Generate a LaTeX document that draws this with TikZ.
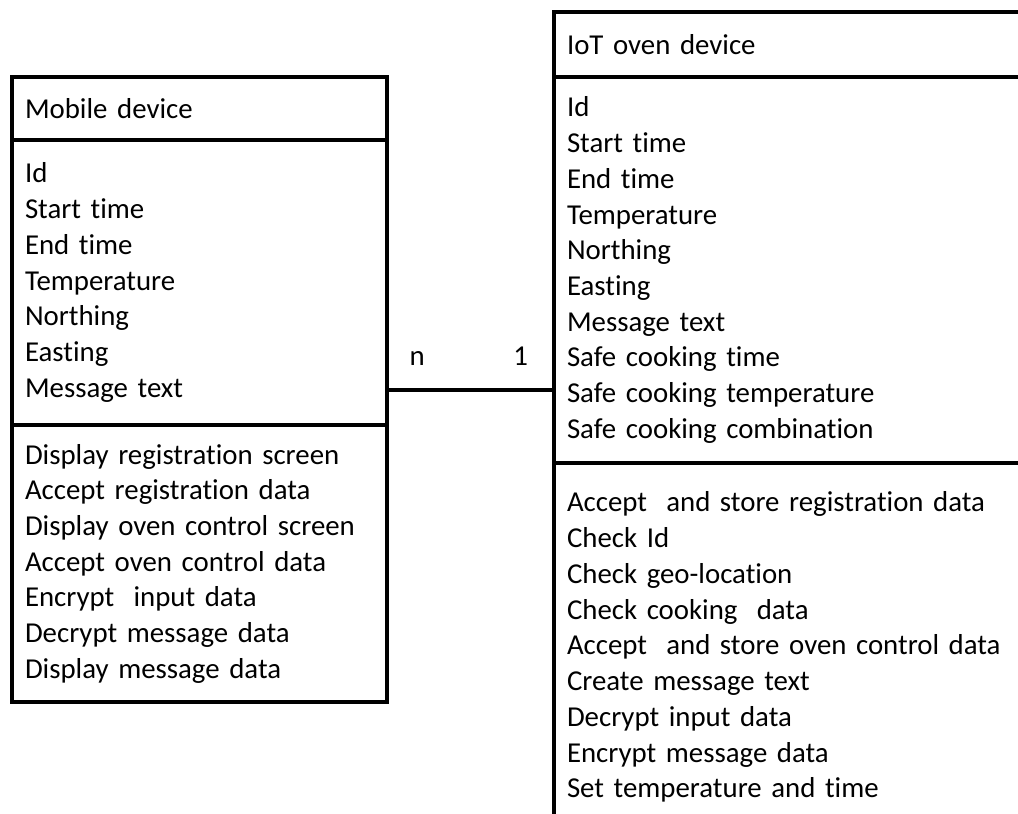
\documentclass[tikz,border=0pt]{standalone}
\usepackage{fontspec}
\setmainfont{Carlito}[Ligatures={NoCommon}]
\usetikzlibrary{positioning}

\begin{document}
\begin{tikzpicture}[
    x=0.025cm, y=-0.025cm,
    box/.style={draw, line width=2.4pt, outer sep=0pt, inner xsep=0.325cm, inner ysep=0pt,
      align=left, font={\fontsize{20.5pt}{25.4pt}\selectfont}},
    mobbox/.style={box, text width=8.725cm},
    ovenbox/.style={box, text width=11.85cm},
    mult/.style={anchor=base, yshift=0.625cm, font={\fontsize{20.5pt}{25.4pt}\selectfont}}
  ]
    \useasboundingbox (0,0) rectangle (1018,814);
    \clip (0,0) rectangle (1018,814);

    % mobile device class
    \node[mobbox, anchor=north west, minimum height=1.575cm] (mobtitle) at (12,77) {Mobile device};
    \node[mobbox, below=0pt of mobtitle, minimum height=7.125cm] (mobattr) {Id\\Start time\\End time\\Temperature\\Northing\\Easting\\Message text};
    \node[mobbox, below=0pt of mobattr, minimum height=6.925cm] (mobops) {Display registration screen\\Accept registration data\\Display oven control screen\\Accept oven control data\\Encrypt\ \ input data\\Decrypt message data\\Display message data};

    % IoT oven device class
    \node[ovenbox, anchor=north west, minimum height=1.625cm] (oventitle) at (554,12) {IoT oven device};
    \node[ovenbox, below=0pt of oventitle, minimum height=9.65cm] (ovenattr) {Id\\Start time\\End time\\Temperature\\Northing\\Easting\\Message text\\Safe cooking time\\Safe cooking temperature\\Safe cooking combination};
    \node[ovenbox, below=0pt of ovenattr, minimum height=9.2cm] (ovenops) {Accept\ \ and store registration data\\Check Id\\Check geo-location\\Check cooking\ \ data\\Accept\ \ and store oven control data\\Create message text\\Decrypt input data\\Encrypt message data\\Set temperature and time};

    % association
    \coordinate (link) at ([yshift=0.875cm]mobattr.south east);
    \draw[line width=2.4pt] (link) -- (link -| ovenattr.west)
      node[mult, pos=0.18] (nmult) {n}
      node[mult, pos=0.80] (onemult) {1};
  \end{tikzpicture}
\end{document}
